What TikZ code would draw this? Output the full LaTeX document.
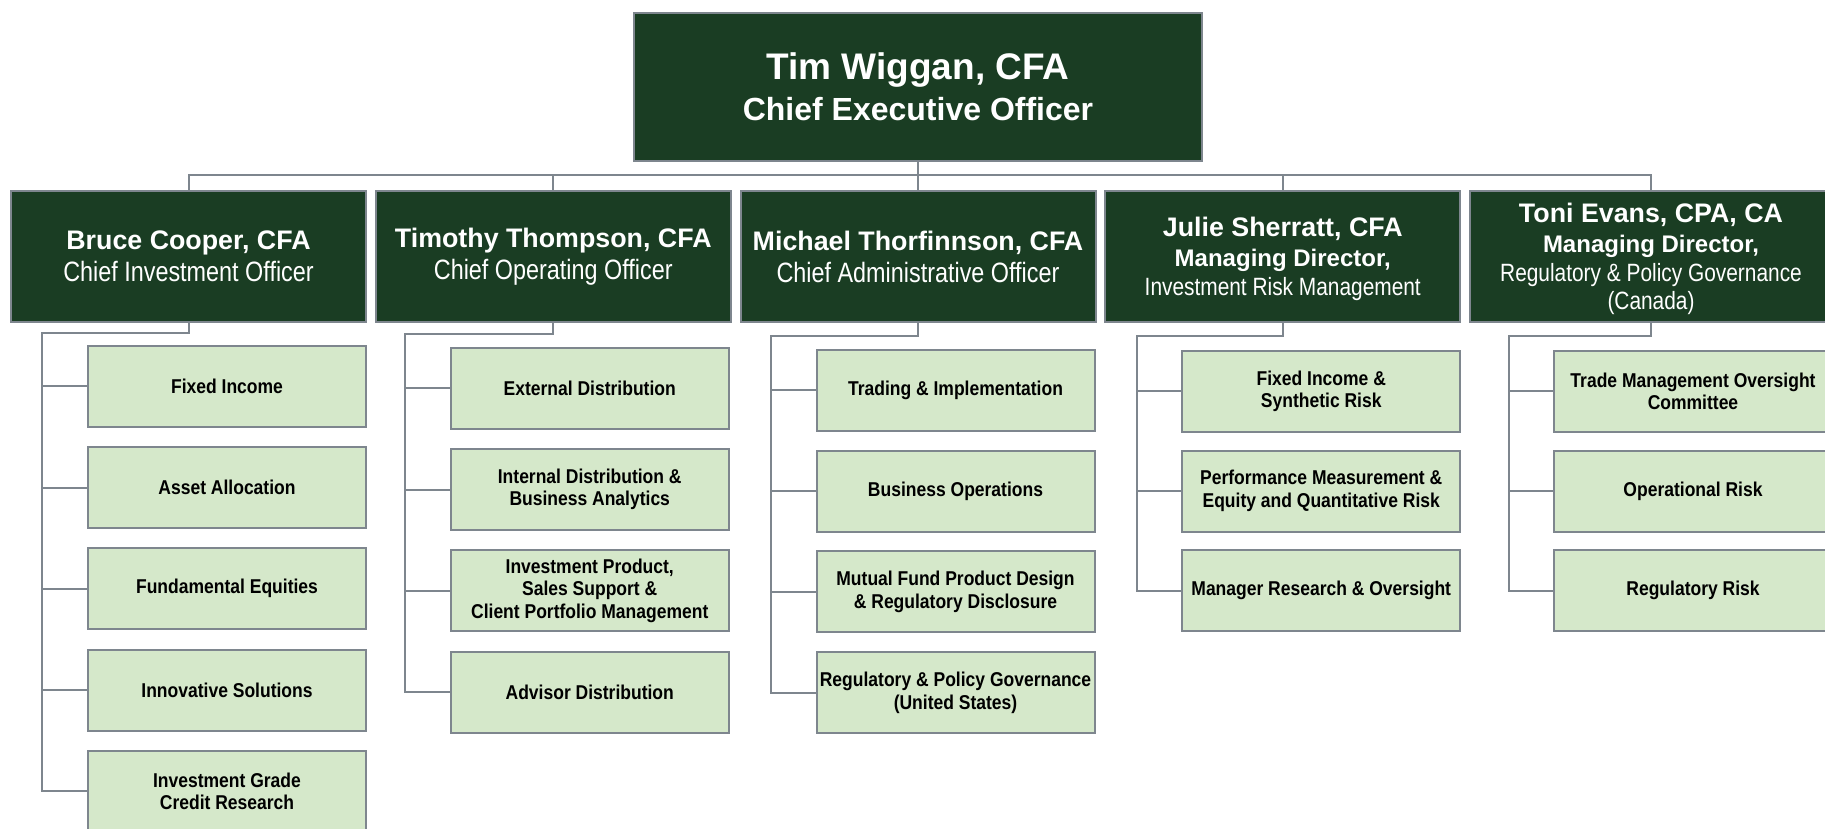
\documentclass[tikz,border=0pt]{standalone}
\usepackage{fontspec}
\usetikzlibrary{positioning}

\setmainfont{Liberation Sans}
\newfontfamily\narrowfont[FakeStretch=0.835]{Liberation Sans}
\newfontfamily\unitfont[FakeStretch=0.875]{Liberation Sans}

\definecolor{chartgreen}{RGB}{26,61,35}
\definecolor{unitgreen}{RGB}{213,232,202}
\definecolor{rulegray}{RGB}{126,134,142}

% one macro per kind of line in the boxes
\newcommand{\ceoname}{\bfseries\fontsize{37}{40}\selectfont}
\newcommand{\ceorole}{\bfseries\fontsize{32}{34}\selectfont}
\newcommand{\headname}{\bfseries\fontsize{26.8}{30}\selectfont}
\newcommand{\headrole}{\narrowfont\fontsize{28}{30}\selectfont}
\newcommand{\headrank}{\bfseries\fontsize{24}{28}\selectfont}
\newcommand{\headarea}{\narrowfont\fontsize{25}{28}\selectfont}

\tikzset{
  box/.style={rectangle, draw=rulegray, line width=2pt, inner sep=0pt, align=center},
  ceo/.style={box, fill=chartgreen, text=white, minimum width=568pt, minimum height=148pt,
    font=\fontsize{37}{40.5}\selectfont},
  head/.style={box, fill=chartgreen, text=white, minimum width=355pt, minimum height=131pt,
    font=\fontsize{26}{30}\selectfont},
  % managing directors: text sits a bit lower in the box
  mdhead/.style={head, text depth=-4pt},
  unit/.style={box, fill=unitgreen, text=black, minimum width=278pt, minimum height=81pt,
    font=\unitfont\bfseries\fontsize{20}{22.5}\selectfont},
  link/.style={draw=rulegray, line width=2pt},
}

\begin{document}
\begin{tikzpicture}
  \clip (0,0) rectangle (1825pt,-828pt);
  \fill[white] (0,0) rectangle (1825pt,-828pt);

  % second level
  \node[head] (cio) at (188.5pt,-256.5pt)
    {\headname Bruce Cooper, CFA\\[2pt] \headrole Chief Investment Officer};
  \node[head, right=7.75pt of cio] (coo)
    {\headname Timothy Thompson, CFA\\[2pt] \headrole Chief Operating Officer};
  \node[head, right=7.75pt of coo] (cao)
    {\headname Michael Thorfinnson, CFA\\[2pt] \headrole Chief Administrative Officer};
  \node[mdhead, right=7.75pt of cao] (irm)
    {\headname Julie Sherratt, CFA\\ \headrank Managing Director,\\[-1pt] \headarea Investment Risk Management};
  \node[mdhead, right=7.75pt of irm, minimum width=362pt] (rpg)
    {\headname Toni Evans, CPA, CA\\ \headrank Managing Director,\\[-1pt] \headarea Regulatory \& Policy Governance\\[-2pt] \headarea (Canada)};

  % top
  \node[ceo, above=28.5pt of cao] (ceo)
    {\ceoname Tim Wiggan, CFA\\ \ceorole Chief Executive Officer};

  % investment
  \node[unit, below left=21.7pt and 0pt of cio.south east] (fixinc) {Fixed Income};
  \node[unit, below=18.3pt of fixinc] (assets) {Asset Allocation};
  \node[unit, below=18.3pt of assets] (fundeq) {Fundamental Equities};
  \node[unit, below=18.3pt of fundeq] (innov) {Innovative Solutions};
  \node[unit, below=18.3pt of innov] (credit) {Investment Grade\\Credit Research};

  % operations
  \node[unit, below left=23.7pt and 2pt of coo.south east] (extdist) {External Distribution};
  \node[unit, below=18.3pt of extdist] (intdist) {Internal Distribution \&\\Business Analytics};
  \node[unit, below=18.3pt of intdist] (product) {Investment Product,\\Sales Support \&\\Client Portfolio Management};
  \node[unit, below=18.3pt of product] (advisor) {Advisor Distribution};

  % administration
  \node[unit, below left=25.8pt and 1pt of cao.south east] (trading) {Trading \& Implementation};
  \node[unit, below=17.8pt of trading] (busops) {Business Operations};
  \node[unit, below=17.8pt of busops] (mfdesign) {Mutual Fund Product Design\\\& Regulatory Disclosure};
  \node[unit, below=17.8pt of mfdesign] (regus) {Regulatory \& Policy Governance\\(United States)};

  % investment risk
  \node[unit, below left=26.7pt and 0pt of irm.south east] (firisk) {Fixed Income \&\\Synthetic Risk};
  \node[unit, below=16.8pt of firisk] (perfrisk) {Performance Measurement \&\\Equity and Quantitative Risk};
  \node[unit, below=16.8pt of perfrisk] (mgrres) {Manager Research \& Oversight};

  % regulatory & policy
  \node[unit, below left=26.7pt and 0pt of rpg.south east] (tmoc) {Trade Management Oversight\\Committee};
  \node[unit, below=16.8pt of tmoc] (oprisk) {Operational Risk};
  \node[unit, below=16.8pt of oprisk] (regrisk) {Regulatory Risk};

  % ceo to heads
  \coordinate[above=15.5pt of cio.north] (bus-l);
  \coordinate[above=15.5pt of rpg.north] (bus-r);
  \draw[link] (cio.north) -- (bus-l) -- (bus-r) -- (rpg.north);
  \draw[link] (ceo.south) -- (ceo.south |- bus-l);
  \draw[link] (coo.north) -- (coo.north |- bus-l);
  \draw[link] (cao.north) -- (cao.north |- bus-l);
  \draw[link] (irm.north) -- (irm.north |- bus-l);

  % heads to units
  \coordinate[above left=53pt and 45pt of fixinc.west] (cio-t);
  \draw[link] (cio.south) |- (cio-t) |- (credit.west);
  \draw[link] (cio-t |- fixinc.west) -- (fixinc.west)
              (cio-t |- assets.west) -- (assets.west)
              (cio-t |- fundeq.west) -- (fundeq.west)
              (cio-t |- innov.west) -- (innov.west);

  \coordinate[above left=54pt and 45pt of extdist.west] (coo-t);
  \draw[link] (coo.south) |- (coo-t) |- (advisor.west);
  \draw[link] (coo-t |- extdist.west) -- (extdist.west)
              (coo-t |- intdist.west) -- (intdist.west)
              (coo-t |- product.west) -- (product.west);

  \coordinate[above left=54pt and 45pt of trading.west] (cao-t);
  \draw[link] (cao.south) |- (cao-t) |- (regus.west);
  \draw[link] (cao-t |- trading.west) -- (trading.west)
              (cao-t |- busops.west) -- (busops.west)
              (cao-t |- mfdesign.west) -- (mfdesign.west);

  \coordinate[above left=55pt and 44pt of firisk.west] (irm-t);
  \draw[link] (irm.south) |- (irm-t) |- (mgrres.west);
  \draw[link] (irm-t |- firisk.west) -- (firisk.west)
              (irm-t |- perfrisk.west) -- (perfrisk.west);

  \coordinate[above left=55pt and 44pt of tmoc.west] (rpg-t);
  \draw[link] (rpg.south) |- (rpg-t) |- (regrisk.west);
  \draw[link] (rpg-t |- tmoc.west) -- (tmoc.west)
              (rpg-t |- oprisk.west) -- (oprisk.west);
\end{tikzpicture}
\end{document}
